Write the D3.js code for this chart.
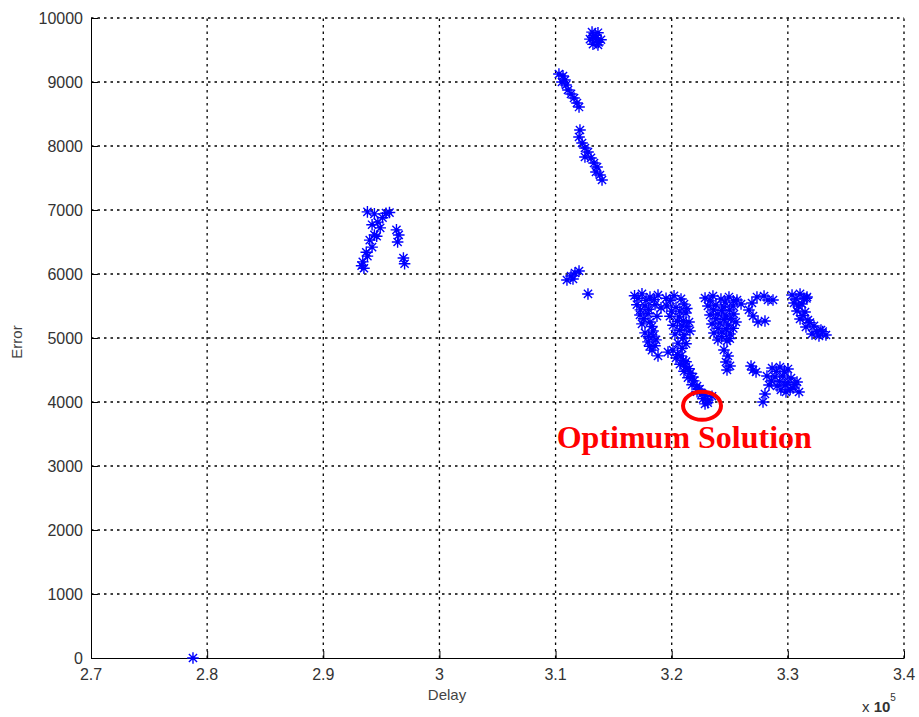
<!DOCTYPE html>
<html>
<head>
<meta charset="utf-8">
<script src="https://cdn.jsdelivr.net/npm/d3@7"></script>
<style>
  body { margin: 0; background: #fff; }
</style>
</head>
<body>
<script>
// [delay, error], cluster by cluster
var lonePoint = [[278780, 0]];

var clusterA = [
    [293800, 6970], [294400, 6940], [295400, 6950], [295700, 6960], [295100, 6880],
    [294700, 6810], [294200, 6770], [294900, 6720], [294400, 6610], [294600, 6590],
    [294000, 6530], [294200, 6420], [293700, 6340], [293800, 6280], [293400, 6190],
    [293300, 6130], [293500, 6090], [296300, 6690], [296500, 6610], [296400, 6500],
    [296900, 6250], [297000, 6160]
];

var clusterTop = [
    [313140, 9780], [313650, 9770], [312960, 9670], [313480, 9690], [313910, 9660],
    [313220, 9590], [313650, 9580], [313400, 9730], [313200, 9700], [313700, 9620]
];

var cluster9000 = [
    [310290, 9125], [310640, 9094], [310810, 9031], [310550, 9000], [310900, 8953],
    [311070, 8875], [311330, 8813], [311590, 8750], [311840, 8672], [312020, 8609]
];

var cluster8000 = [
    [312100, 8250], [312020, 8141], [312280, 8047], [312530, 7969], [312790, 7906],
    [312530, 7828], [313050, 7813], [313310, 7734], [313570, 7672], [313480, 7594],
    [313820, 7547], [314000, 7469]
];

var cluster6000 = [
    [310980, 5906], [311330, 5969], [311500, 5922], [311670, 6016], [312020, 6047],
    [312790, 5688]
];

var clusterMain = [
    [316800, 5660], [317440, 5690], [318130, 5640], [318820, 5670], [319510, 5620],
    [320200, 5660], [320800, 5610], [317790, 5590],
    [317000, 5520], [317700, 5500], [317270, 5360], [317960, 5380], [317440, 5220],
    [318130, 5250], [317700, 5080], [318390, 5110], [317960, 4940], [318650, 4970],
    [318300, 4810], [318820, 4720], [318560, 4880],
    [318560, 5520], [319080, 5470], [318730, 5340],
    [319590, 5500], [320370, 5480], [321060, 5530], [319850, 5340], [320630, 5330],
    [321230, 5390], [320110, 5200], [320890, 5190], [321490, 5250], [320280, 5060],
    [321060, 5050], [321570, 5110], [320540, 4920], [321230, 4910], [320970, 5000],
    [319680, 4780], [320110, 4810], [320370, 4690], [320800, 4720], [320710, 4590],
    [321230, 4630], [321060, 4480], [321490, 4520], [321400, 4380], [321830, 4390],
    [321750, 4270], [322180, 4250], [322180, 4160], [322610, 4130], [322690, 4050],
    [323120, 4030], [323470, 4090], [322870, 3970],
    [317100, 5620], [318500, 5600], [319900, 5590], [317300, 5440], [318000, 5450],
    [317600, 5300], [318300, 5180], [318000, 5020], [318400, 5030], [318100, 4870],
    [320000, 5420], [320700, 5420], [321300, 5460], [320500, 5260], [321000, 5270],
    [320700, 5120], [321300, 5180], [320900, 4840], [320500, 4740], [321000, 4650],
    [321200, 4550], [321600, 4450], [321900, 4330], [322400, 4200], [322900, 4100],
    [323100, 3990]
];

var clusterE = [
    [322870, 5625], [323550, 5656], [324240, 5609], [324930, 5641], [325620, 5594],
    [325970, 5531], [323120, 5500], [323810, 5516], [324500, 5484], [325280, 5500],
    [323300, 5359], [323980, 5375], [324670, 5344], [325360, 5375], [323470, 5219],
    [324160, 5234], [324850, 5203], [325530, 5250], [323640, 5078], [324330, 5094],
    [325020, 5063], [323980, 4969], [324760, 4953],
    [324500, 4813], [324850, 4719], [324670, 4625], [325020, 4563], [324760, 4500],
    [323300, 5580], [324600, 5560], [325300, 5580], [323600, 5440], [324300, 5430],
    [325000, 5440], [323800, 5300], [324500, 5290], [325100, 5300], [324000, 5150],
    [324700, 5140], [325300, 5150], [324300, 5020], [325000, 4990]
];

var clusterF = [
    [327340, 5641], [327950, 5656], [326910, 5547], [326650, 5438], [327000, 5344],
    [327430, 5250], [328030, 5266], [328290, 5594], [328720, 5594]
];

var clusterG = [
    [330360, 5672], [331050, 5688], [331650, 5641], [330530, 5547], [331220, 5531],
    [330790, 5422], [331480, 5406], [331050, 5297], [331730, 5281], [331560, 5172],
    [332250, 5188], [332850, 5125], [332080, 5063], [332680, 5031], [333280, 5047],
    [330700, 5610], [331400, 5620], [330900, 5500], [331300, 5350], [331900, 5240],
    [332500, 5100], [333000, 5100], [331600, 5620]
];

var clusterH = [[326830, 4563], [327260, 4469], [327000, 4500]];

var clusterI = [
    [328640, 4531], [329320, 4547], [330010, 4516], [328200, 4406], [328890, 4391],
    [329580, 4406], [330270, 4375], [330790, 4313], [328380, 4266], [329070, 4250],
    [329750, 4266], [330440, 4219], [330960, 4156], [329840, 4156], [328030, 4125],
    [327860, 4000], [329000, 4480], [329700, 4470], [328600, 4330], [329300, 4320],
    [330000, 4300], [329400, 4190], [330200, 4200], [330600, 4270]
];

var xTicks = [270000, 280000, 290000, 300000, 310000, 320000, 330000, 340000];
var yTicks = [0, 1000, 2000, 3000, 4000, 5000, 6000, 7000, 8000, 9000, 10000];

var optimum = { delay: 322610, error: 3940, label: "Optimum Solution", labelDelay: 310100, labelError: 3280 };

var points = [].concat(lonePoint, clusterA, clusterTop, cluster9000, cluster8000,
    cluster6000, clusterMain, clusterE, clusterF, clusterG, clusterH, clusterI);

var width = 919;
var height = 717;
var margin = ({ top: 18, right: 15, bottom: 59, left: 91 });
var sans = "'Liberation Sans', Arial, sans-serif";

let svg = d3.select('body').append('svg');
svg.attr('width', width)
    .attr('height', height);

var x = d3.scaleLinear()
    .domain([270000, 340000])
    .range([margin.left, width - margin.right]);

var y = d3.scaleLinear()
    .domain([0, 10000])
    .range([height - margin.bottom, margin.top]);

// dotted grid
svg.append("g")
    .attr("stroke", "#000")
    .attr("stroke-width", 1.3)
    .attr("stroke-dasharray", "2.5,4")
    .call(g => g.selectAll(".vx")
        .data(xTicks.slice(1))
        .enter().append("line")
        .attr("x1", d => x(d)).attr("x2", d => x(d))
        .attr("y1", y(0)).attr("y2", y(10000)))
    .call(g => g.selectAll(".hy")
        .data(yTicks.slice(1))
        .enter().append("line")
        .attr("y1", d => y(d)).attr("y2", d => y(d))
        .attr("x1", x(270000)).attr("x2", x(340000)));

var xAxis = g => g
    .attr("transform", `translate(0,${y(0)})`)
    .call(d3.axisTop(x)
        .tickValues(xTicks)
        .tickSize(7)
        .tickSizeOuter(0)
        .tickFormat(""))
    .call(g => g.selectAll("path, line").attr("stroke", "#000"));

var yAxis = g => g
    .attr("transform", `translate(${x(270000)},0)`)
    .call(d3.axisRight(y)
        .tickValues(yTicks)
        .tickSize(7)
        .tickSizeOuter(0)
        .tickFormat(""))
    .call(g => g.selectAll("path, line").attr("stroke", "#000"));

svg.append("g").call(xAxis);
svg.append("g").call(yAxis);

// tick labels
svg.append("g")
    .selectAll("text")
    .data(xTicks)
    .enter()
    .append("text")
    .attr("x", d => x(d))
    .attr("y", y(0) + 22)
    .attr("text-anchor", "middle")
    .attr("font-family", sans)
    .attr("font-size", 16)
    .attr("fill", "#333")
    .text(d => String(+(d / 1e5).toFixed(1)));

svg.append("g")
    .selectAll("text")
    .data(yTicks)
    .enter()
    .append("text")
    .attr("x", x(270000) - 8)
    .attr("y", d => y(d))
    .attr("dy", "0.35em")
    .attr("text-anchor", "end")
    .attr("font-family", sans)
    .attr("font-size", 16)
    .attr("fill", "#333")
    .text(d => d);

svg.append("text")
    .attr("x", 447)
    .attr("y", 700)
    .attr("text-anchor", "middle")
    .attr("font-family", sans)
    .attr("font-size", 15)
    .attr("fill", "#444")
    .text("Delay");

svg.append("text")
    .attr("transform", "translate(22,342) rotate(-90)")
    .attr("text-anchor", "middle")
    .attr("font-family", sans)
    .attr("font-size", 15)
    .attr("fill", "#444")
    .text("Error");

var expo = svg.append("text")
    .attr("x", 862)
    .attr("y", 712)
    .attr("font-family", sans)
    .attr("font-size", 15)
    .attr("fill", "#333");
expo.append("tspan").text("x ");
expo.append("tspan").attr("font-weight", "bold").text("10");
expo.append("tspan").attr("font-size", 10).attr("dy", -11).text("5");

// asterisk markers
var s = 5.8, d = 4.1;
var star = `M${-s},0H${s}M0,${-s}V${s}M${-d},${-d}L${d},${d}M${-d},${d}L${d},${-d}`;

svg.append("g")
    .attr("stroke", "#0000ff")
    .attr("stroke-width", 1.4)
    .attr("fill", "none")
    .selectAll("path")
    .data(points)
    .enter()
    .append("path")
    .attr("transform", p => `translate(${x(p[0])},${y(p[1])})`)
    .attr("d", star);

// annotation
svg.append("ellipse")
    .attr("cx", x(optimum.delay))
    .attr("cy", y(optimum.error))
    .attr("rx", 19)
    .attr("ry", 14)
    .attr("fill", "none")
    .attr("stroke", "#ff0000")
    .attr("stroke-width", 4);

svg.append("text")
    .attr("x", x(optimum.labelDelay))
    .attr("y", y(optimum.labelError))
    .attr("font-family", "'Liberation Serif', 'Times New Roman', serif")
    .attr("font-weight", "bold")
    .attr("font-size", 32)
    .attr("fill", "#ff0000")
    .text(optimum.label);
</script>
</body>
</html>
